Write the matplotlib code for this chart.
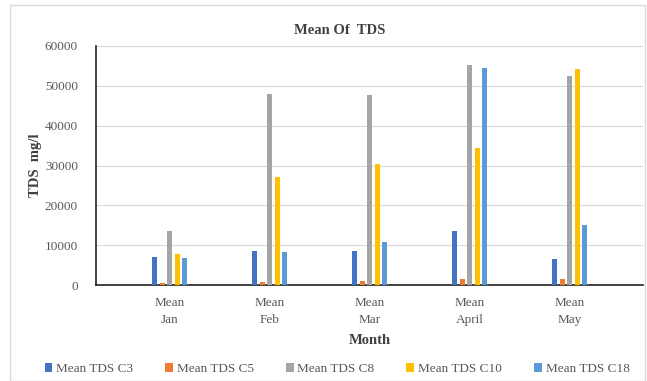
import numpy as np
import matplotlib
matplotlib.use("Agg")
import matplotlib.pyplot as plt
from matplotlib.patches import Rectangle

months = ["Mean\nJan", "Mean\nFeb", "Mean\nMar", "Mean\nApril", "Mean\nMay"]
series_names = ["Mean TDS C3", "Mean TDS C5", "Mean TDS C8", "Mean TDS C10", "Mean TDS C18"]
tds_c3 = [7000, 8500, 8500, 13600, 6600]
tds_c5 = [500, 800, 1000, 1500, 1500]
tds_c8 = [13500, 48000, 47800, 55200, 52400]
tds_c10 = [7800, 27000, 30300, 34500, 54300]
tds_c18 = [6800, 8300, 10800, 54400, 15000]
colors = ["#4472C4", "#ED7D31", "#A5A5A5", "#FFC000", "#5B9BD5"]

plt.rcParams["font.family"] = ["Liberation Serif", "DejaVu Serif"]

fig = plt.figure(figsize=(6.47, 3.81), dpi=100)
fig.patch.set_facecolor("white")
# light frame around the chart area
fig.add_artist(Rectangle((10 / 647, 0.0), 635 / 647, 376 / 381, transform=fig.transFigure,
                         fill=False, edgecolor="#d9d9d9", linewidth=1.0))

ax = fig.add_axes([96 / 647, 1 - 285 / 381, 547 / 647, 239 / 381])
x = np.arange(len(months))
step = 0.075
width = 0.05
all_series = [tds_c3, tds_c5, tds_c8, tds_c10, tds_c18]
for i, (vals, name, c) in enumerate(zip(all_series, series_names, colors)):
    ax.bar(x + (i - 2) * step, vals, width=width, color=c, label=name, zorder=3)

ax.set_xlim(-0.74, 4.73)
ax.set_ylim(0, 60000)
ax.set_yticks(np.arange(0, 60001, 10000))
ax.set_xticks(x)
ax.set_xticklabels(months, fontsize=9.5, color="#595959", linespacing=1.45)
ax.tick_params(axis="y", labelsize=9.5, labelcolor="#595959", length=0, pad=13)
ax.tick_params(axis="x", length=0, pad=9)
ax.grid(axis="y", color="#d9d9d9", linewidth=0.8, zorder=0)
for s in ["top", "right"]:
    ax.spines[s].set_visible(False)
ax.spines["left"].set_color("#222222")
ax.spines["bottom"].set_color("#222222")
ax.spines["left"].set_linewidth(1.2)
ax.spines["bottom"].set_linewidth(1.2)

ax.set_ylabel("TDS  mg/l", fontsize=10.5, fontweight="bold", color="#404040", labelpad=2)
ax.set_xlabel("Month", fontsize=10.5, fontweight="bold", color="#404040", labelpad=6)
fig.text(340 / 647, 1 - 30 / 381, "Mean Of  TDS", fontsize=10.5, fontweight="bold",
         color="#404040", ha="center", va="center")

handles, labels = ax.get_legend_handles_labels()
fig.legend(handles, labels, loc="center", bbox_to_anchor=(337 / 647, 1 - 369 / 381), ncol=5,
           frameon=False, fontsize=9.5, handlelength=0.6, handleheight=0.6,
           handletextpad=0.3, columnspacing=2.4, labelcolor="#595959")

fig.savefig("out.png", dpi=100)
